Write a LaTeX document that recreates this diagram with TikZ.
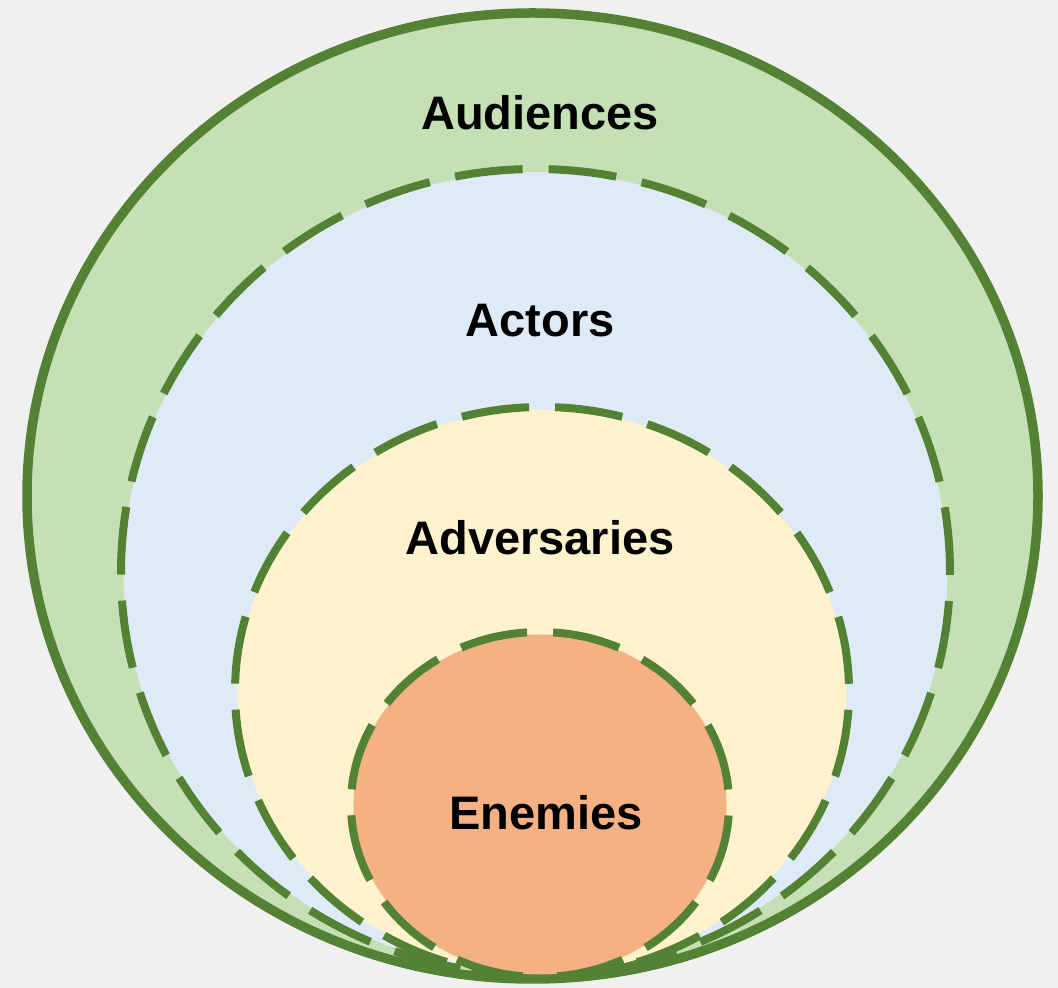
\documentclass[tikz,border=0pt]{standalone}
\usepackage{fontspec}
\setmainfont{Liberation Sans}
\definecolor{bgc}{HTML}{F0F0F0}
\definecolor{strokec}{HTML}{548235}
\definecolor{audfill}{HTML}{C5E0B4}
\definecolor{actfill}{HTML}{DEEBF7}
\definecolor{advfill}{HTML}{FFF2CC}
\definecolor{enefill}{HTML}{F4B183}
\tikzset{
  solidring/.style={draw=strokec, line width=9.5pt},
  dashring/.style={draw=strokec, line width=8pt, dash pattern=on 68pt off 26pt},
  lbl/.style={anchor=base, font=\bfseries\fontsize{47}{56}\selectfont, text=black, inner sep=0pt}
}
\begin{document}
\begin{tikzpicture}[x=1pt,y=1pt]
\useasboundingbox (0,0) rectangle (1058,988);
\fill[bgc] (0,0) rectangle (1058,988);
% Audiences
\fill[audfill] (532.5,492) ellipse [x radius=505.5, y radius=483];
\draw[solidring] (532.5,492) ellipse [x radius=505.5, y radius=483];
% Actors
\fill[actfill] (535.5,416) ellipse [x radius=412, y radius=400];
\draw[dashring, dash phase=18.8pt] (535.5,13) arc [start angle=270, end angle=630, x radius=414.5, y radius=403];
% Adversaries
\fill[advfill] (542,296.5) ellipse [x radius=304.5, y radius=282];
\draw[dashring, dash phase=91.5pt] (542,12) arc [start angle=270, end angle=630, x radius=307, y radius=284.5];
% Enemies
\fill[enefill] (540,183.5) ellipse [x radius=186.5, y radius=170];
\draw[dashring, dash phase=76.9pt] (540,11) arc [start angle=270, end angle=630, x radius=189, y radius=172.5];
% Labels
\node[lbl] (audiences) at (540,858) {Audiences};
\node[lbl] (actors) at (540,651) {Actors};
\node[lbl] (adversaries) at (540,433) {Adversaries};
\node[lbl] (enemies) at (546,158) {Enemies};
\end{tikzpicture}
\end{document}
